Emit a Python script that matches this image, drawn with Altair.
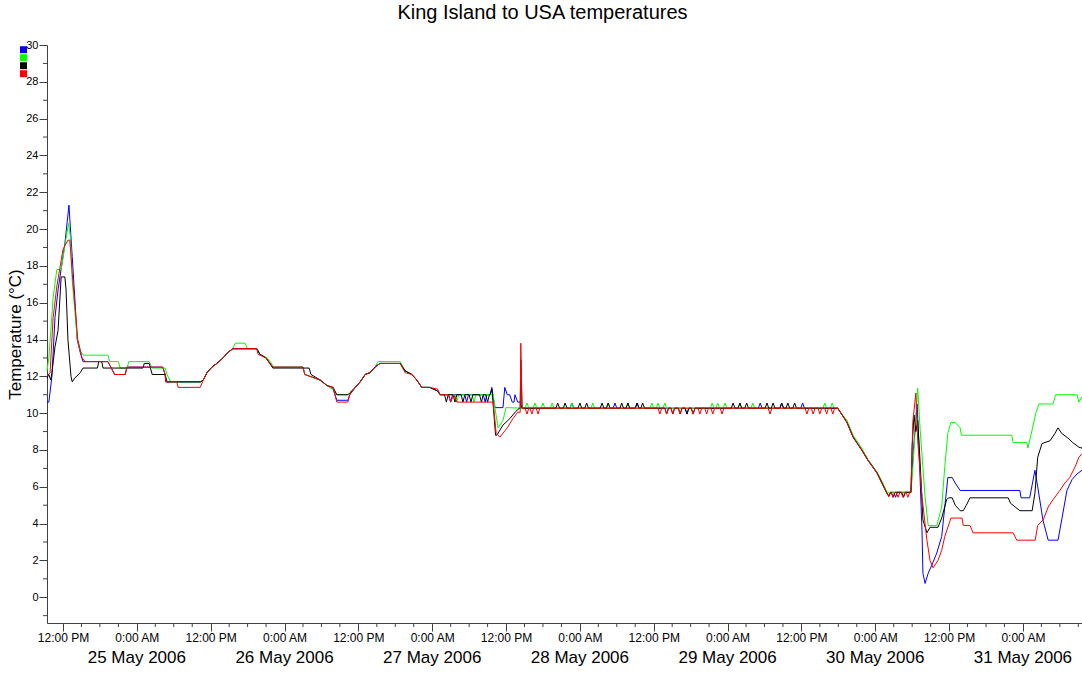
import altair as alt
import pandas as pd

# Readings as (hours after 24 May 2006 12:00, temperature in °C)
blue_pts = [
    (-2.6, 10.6), (-2.3, 10.6), (-1.8, 12.0), (-1.3, 15.2), (-0.8, 16.7), (0.3, 19.2), (0.97, 21.3),
    (1.1, 20.6), (1.5, 18.5), (2.0, 15.8), (2.3, 14.0), (2.8, 13.3), (3.25, 12.8), (7.3, 12.8),
    (8.4, 12.1), (10.1, 12.1), (10.4, 12.5), (16.2, 12.5), (16.6, 12.1), (16.7, 11.7), (22.3, 11.7),
    (22.8, 11.8), (23.4, 12.2), (24.2, 12.5), (25.0, 12.7), (26.0, 13.0), (26.8, 13.3), (27.6, 13.5),
    (31.5, 13.5), (32.0, 13.2), (33.0, 13.0), (34.1, 12.5), (39.0, 12.5), (39.3, 12.1), (41.8, 11.8),
    (42.9, 11.5), (43.9, 11.3), (44.5, 10.7), (46.3, 10.7), (46.6, 11.0), (47.5, 11.4), (48.3, 11.7),
    (49.1, 12.1), (49.9, 12.2), (50.7, 12.5), (51.5, 12.7), (54.8, 12.7), (55.6, 12.3), (56.7, 12.1),
    (57.5, 11.8), (58.3, 11.4), (59.6, 11.4), (60.9, 11.2), (61.3, 11.0), (69.4, 11.0), (69.7, 11.4),
    (69.9, 10.9), (70.2, 10.3), (71.5, 10.3), (71.8, 11.4), (72.2, 11.0), (72.6, 11.0), (73.0, 10.6),
    (73.3, 10.6), (73.45, 11.0), (73.9, 10.6), (74.3, 10.6), (74.6, 10.27), (125.9, 10.27),
    (127.4, 9.5), (128.4, 8.7), (129.8, 8.0), (130.8, 7.45), (132.3, 6.75), (133.1, 6.2), (133.9, 5.65),
    (134.2, 5.5), (134.5, 5.7), (137.8, 5.7), (138.2, 8.0), (138.8, 10.5), (139.1, 8.2), (139.3, 6.35),
    (139.6, 3.6), (139.75, 1.3), (140.1, 0.75), (140.6, 1.3), (141.2, 1.75), (142.0, 2.4), (142.8, 3.3),
    (143.3, 4.9), (143.8, 6.5), (144.5, 6.5), (145.0, 6.2), (145.8, 5.8), (155.5, 5.8), (155.7, 5.4),
    (157.1, 5.4), (157.95, 6.9), (158.4, 6.0), (159.25, 4.2), (160.1, 3.1), (161.7, 3.1), (162.3, 4.2),
    (163.15, 5.8), (164.0, 6.4), (164.8, 6.7), (165.6, 6.9),
]
green_pts = [
    (-2.6, 12.3), (-2.3, 13.0), (-1.6, 16.3), (-1.0, 17.8), (-0.3, 17.8), (0.5, 19.5), (0.9, 20.3),
    (1.2, 19.6), (1.5, 17.2), (2.3, 14.1), (2.8, 13.4), (3.3, 13.15), (7.3, 13.15), (7.6, 12.8),
    (9.0, 12.8), (9.3, 12.45), (10.4, 12.45), (10.7, 12.8), (14.0, 12.8), (14.5, 12.45), (16.6, 12.45),
    (16.9, 12.1), (17.5, 11.7), (22.3, 11.7), (22.8, 11.8), (23.4, 12.2), (24.2, 12.5), (25.0, 12.7),
    (26.0, 13.0), (26.8, 13.3), (27.6, 13.5), (28.0, 13.8), (29.6, 13.8), (30.0, 13.5), (31.5, 13.5),
    (32.0, 13.2), (33.2, 13.0), (34.3, 12.5), (39.0, 12.5), (39.3, 12.1), (41.8, 11.8), (42.9, 11.5),
    (43.9, 11.3), (44.5, 11.0), (46.3, 11.0), (46.6, 11.1), (47.5, 11.4), (48.3, 11.7), (49.1, 12.1),
    (49.9, 12.2), (50.7, 12.5), (51.2, 12.8), (54.8, 12.8), (55.6, 12.3), (56.7, 12.1), (57.5, 11.8),
    (58.3, 11.4), (59.6, 11.4), (60.9, 11.2), (61.3, 11.0), (69.9, 11.0), (70.2, 10.3), (70.7, 9.2),
    (71.5, 9.6), (72.0, 10.3), (74.6, 10.27), (125.9, 10.27), (127.4, 9.6), (128.4, 8.8), (129.8, 8.1),
    (130.8, 7.5), (132.3, 6.8), (133.1, 6.3), (133.9, 5.7), (137.8, 5.7), (138.2, 7.5), (138.9, 11.35),
    (139.3, 9.1), (140.1, 5.45), (140.6, 3.9), (142.0, 3.9), (142.8, 4.9), (143.3, 7.1), (143.8, 8.9),
    (144.3, 9.5), (145.0, 9.5), (145.8, 9.2), (146.0, 8.8), (154.2, 8.8), (154.4, 8.4), (156.65, 8.4),
    (156.8, 8.1), (157.5, 9.1), (158.1, 10.0), (158.6, 10.5), (160.9, 10.5), (161.3, 11.0),
    (164.8, 11.0), (165.1, 10.6), (165.6, 10.9),
]
black_pts = [
    (-2.6, 11.9), (-2.3, 12.1), (-2.0, 11.8), (-1.8, 12.2), (-1.3, 13.6), (-0.8, 14.5), (-0.3, 17.4),
    (0.3, 17.4), (0.5, 16.7), (0.8, 14.0), (1.3, 12.0), (1.5, 11.7), (1.9, 11.9), (2.8, 12.2),
    (3.25, 12.45), (5.6, 12.45), (5.8, 12.8), (6.3, 12.8), (6.5, 12.45), (13.0, 12.45), (13.2, 12.7),
    (14.0, 12.7), (14.5, 12.1), (16.6, 12.1), (16.9, 11.7), (22.4, 11.7), (22.8, 11.8), (23.4, 12.2),
    (24.2, 12.5), (25.0, 12.7), (26.0, 13.0), (26.8, 13.3), (27.6, 13.5), (31.5, 13.5), (32.0, 13.2),
    (33.0, 13.0), (34.1, 12.45), (40.0, 12.45), (40.3, 12.1), (41.8, 11.8), (42.9, 11.5), (43.9, 11.4),
    (44.5, 11.0), (46.3, 11.0), (46.6, 11.1), (47.5, 11.4), (48.3, 11.7), (49.1, 12.1), (49.9, 12.2),
    (50.7, 12.5), (51.5, 12.7), (54.8, 12.7), (55.6, 12.3), (56.7, 12.1), (57.5, 11.8), (58.3, 11.4),
    (59.6, 11.4), (60.9, 11.2), (61.3, 11.0), (69.4, 11.0), (69.7, 11.3), (69.9, 10.5), (70.3, 8.8),
    (70.5, 8.8), (71.5, 9.35), (72.6, 9.7), (73.6, 10.1), (74.3, 10.3), (74.4, 12.9), (74.6, 10.27),
    (125.9, 10.27), (127.4, 9.5), (128.4, 8.7), (129.8, 8.0), (130.8, 7.45), (132.3, 6.75), (133.1, 6.2),
    (133.9, 5.65), (134.2, 5.5), (134.5, 5.7), (137.8, 5.7), (138.0, 8.2), (138.3, 9.9), (138.6, 9.0),
    (138.9, 9.6), (139.3, 7.3), (139.75, 4.2), (140.4, 3.5), (140.9, 3.8), (142.2, 3.8), (142.8, 4.3),
    (143.6, 5.3), (143.9, 5.4), (144.5, 5.4), (145.0, 5.0), (145.8, 4.7), (146.3, 4.7), (146.8, 5.0),
    (147.4, 5.4), (153.6, 5.4), (154.0, 5.1), (155.5, 4.7), (157.5, 4.7), (157.95, 5.65), (158.4, 7.6),
    (159.1, 8.35), (160.4, 8.5), (161.2, 8.9), (161.7, 9.2), (162.3, 8.9), (163.3, 8.65), (164.1, 8.4),
    (165.1, 8.15), (165.6, 8.1),
]
red_pts = [
    (-2.6, 12.0), (-2.1, 12.2), (-1.6, 15.2), (-1.0, 16.9), (-0.5, 17.9), (0.0, 18.9), (0.8, 19.4),
    (1.1, 19.4), (1.5, 17.6), (2.0, 15.6), (2.4, 14.0), (3.1, 13.0), (3.6, 12.8), (7.3, 12.8),
    (8.4, 12.1), (10.1, 12.1), (10.4, 12.5), (16.2, 12.5), (16.6, 12.1), (16.7, 11.7), (18.5, 11.7),
    (18.7, 11.4), (22.3, 11.4), (22.8, 11.8), (23.4, 12.2), (24.2, 12.5), (25.0, 12.7), (26.0, 13.0),
    (26.8, 13.3), (27.6, 13.5), (31.5, 13.5), (31.7, 13.2), (33.0, 13.0), (34.1, 12.5), (39.0, 12.5),
    (39.3, 12.1), (41.8, 11.8), (42.9, 11.5), (43.9, 11.4), (44.5, 10.6), (46.3, 10.6), (46.6, 11.0),
    (47.5, 11.4), (48.3, 11.7), (49.1, 12.1), (49.9, 12.2), (50.7, 12.5), (51.5, 12.7), (54.8, 12.7),
    (55.6, 12.2), (56.7, 12.1), (57.5, 11.8), (58.3, 11.4), (59.6, 11.4), (60.9, 11.3), (61.3, 11.0),
    (62.6, 11.0), (63.0, 10.6), (63.5, 11.0), (64.0, 10.6), (69.9, 10.6), (70.4, 8.9), (71.0, 8.7),
    (72.2, 9.2), (73.1, 9.7), (73.9, 10.05), (74.3, 10.05), (74.4, 13.8), (74.6, 10.27), (125.9, 10.27),
    (127.4, 9.5), (128.4, 8.7), (129.8, 8.0), (130.8, 7.45), (132.3, 6.75), (133.1, 6.2), (133.9, 5.65),
    (134.2, 5.45), (134.5, 5.7), (137.8, 5.7), (138.1, 9.5), (138.6, 11.1), (138.9, 8.5), (139.6, 5.45),
    (140.4, 3.1), (140.9, 2.0), (141.4, 1.6), (142.2, 2.0), (142.8, 2.55), (143.3, 3.3), (144.1, 4.1),
    (144.3, 4.3), (146.1, 4.3), (146.3, 3.9), (147.4, 3.9), (147.9, 3.5), (154.4, 3.5), (155.0, 3.1),
    (158.0, 3.1), (158.4, 3.9), (159.3, 4.2), (160.1, 4.9), (160.9, 5.3), (162.0, 5.8), (162.8, 6.2),
    (163.6, 6.5), (164.5, 7.1), (165.1, 7.6), (165.6, 7.8),
]

# Brief one-step excursions (hours): off the 11.0 °C level late on 26 May ...
blue_dip_11 = [63.0, 65.6, 68.6]
green_dip_11 = [64.0, 66.8]
black_dip_11 = [62.3, 63.7, 65.0, 66.3, 68.0, 69.0]
# ... off the 10.3 °C floor of 27-29 May ...
blue_up = [82.7, 89.7, 93.3, 113.3, 116.8, 120.2]
blue_down = [101.4]
green_up = [75.4, 76.7, 78.0, 79.5, 82.7, 86.1, 88.6, 91.8, 95.7, 96.7, 97.8,
            105.5, 106.4, 107.6, 110.0, 112.1, 123.8, 125.0]
black_up = [80.4, 81.6, 84.0, 85.1, 87.6, 88.6, 90.8, 91.8, 93.3, 94.2, 108.9,
            110.0, 111.1, 114.4, 115.4, 116.8, 117.8, 118.9]
black_down = [98.1, 99.1, 100.3, 101.4, 102.4]
red_down = [75.4, 76.2, 77.2, 97.0, 98.1, 99.1, 100.3, 102.4, 103.5, 104.6, 105.6,
            107.1, 114.9, 120.9, 121.9, 123.0, 124.1, 125.1]
# ... and off the 5.7 °C shelf on 30 May
blue_shelf = [135.3]
black_shelf = [134.9, 136.6]
red_shelf = [134.9, 135.7, 136.5, 137.3]

SERIES = ["T1", "T2", "T3", "T4"]
COLORS = ["#0000ff", "#00ff00", "#000000", "#ff0000"]
DAY_LABELS = ["25 May 2006", "26 May 2006", "27 May 2006", "28 May 2006",
              "29 May 2006", "30 May 2006", "31 May 2006"]

LEVEL_11, DIP_11 = 11.0, 10.6
FLOOR, FLOOR_UP, FLOOR_DOWN = 10.27, 10.55, 9.95
SHELF, SHELF_DOWN = 5.7, 5.43
H_MS = 3_600_000
T0_MS = int(pd.Timestamp("2006-05-24 12:00", tz="UTC").timestamp() * 1000)


def blips(hours, base, peak, half=0.3):
    pts = []
    for h in hours:
        pts += [(h - half, base), (h, peak), (h + half, base)]
    return pts


def in_hours(h):
    return T0_MS + h * H_MS


traces = {
    "T1": blue_pts + blips(blue_dip_11, LEVEL_11, DIP_11) + blips(blue_up, FLOOR, FLOOR_UP)
    + blips(blue_down, FLOOR, FLOOR_DOWN) + blips(blue_shelf, SHELF, SHELF_DOWN),
    "T2": green_pts + blips(green_dip_11, LEVEL_11, DIP_11) + blips(green_up, FLOOR, FLOOR_UP),
    "T3": black_pts + blips(black_dip_11, LEVEL_11, DIP_11) + blips(black_up, FLOOR, FLOOR_UP)
    + blips(black_down, FLOOR, FLOOR_DOWN) + blips(black_shelf, SHELF, SHELF_DOWN),
    "T4": red_pts + blips(red_down, FLOOR, FLOOR_DOWN) + blips(red_shelf, SHELF, SHELF_DOWN),
}

rows = []
for name, pts in traces.items():
    for h, v in sorted(pts):
        rows.append({"series": name, "ms": in_hours(h), "temp": v})
df = pd.DataFrame(rows)

W, H = 1035, 578
AX = "#404040"
FONT = "Liberation Sans"

x_scale = alt.Scale(type="utc", domain=[in_hours(-2.6), in_hours(165.6)])
y_scale = alt.Scale(domain=[-1.4, 30], nice=False, zero=False)
color_scale = alt.Scale(domain=SERIES, range=COLORS)

# unlabelled colour key: small filled squares stacked in the top-left corner
legend = alt.Legend(
    orient="none", legendX=-27, legendY=1, title=None, symbolType="square",
    symbolSize=4, symbolStrokeWidth=5, labelExpr="''", labelFontSize=1,
    clipHeight=7.7, rowPadding=0, padding=0, symbolOffset=0,
)

x_axis = alt.Axis(
    values=[in_hours(12 * k) for k in range(14)],
    labelExpr="utchours(datum.value) == 12 ? '12:00 PM' : '0:00 AM'",
    title=None, grid=False, tickSize=8, tickColor=AX, domainColor=AX,
    labelFont=FONT, labelFontSize=12, labelColor="#000000", labelPadding=1,
    labelOverlap=False, labelFlush=False,
)
y_axis = alt.Axis(
    values=list(range(0, 31, 2)), title="Temperature (°C)", grid=False,
    tickSize=8, tickColor=AX, domainColor=AX, labelFont=FONT, labelFontSize=11,
    labelColor="#000000", labelPadding=1, titleFont=FONT, titleFontSize=17,
    titleFontWeight="normal", titleColor="#000000", titlePadding=1,
)

X = alt.X("ms:T", scale=x_scale, axis=x_axis)
Y = alt.Y("temp:Q", scale=y_scale, axis=y_axis)

base = alt.Chart(df)
lines = [
    base.transform_filter(alt.datum.series == s).mark_line(strokeWidth=1).encode(
        x=X, y=Y, color=alt.Color("series:N", scale=color_scale, legend=legend),
    )
    for s in SERIES
]

# minor ticks: odd degrees on the y axis, every 3 hours on the time axis
y_minor = alt.Chart(pd.DataFrame({"temp": list(range(-1, 30, 2))})).mark_rule(
    color=AX).encode(y=Y, x=alt.value(-4), x2=alt.value(0))
x_minor = alt.Chart(pd.DataFrame({"ms": [in_hours(h) for h in range(3, 166, 3) if h % 12]})).mark_rule(
    color=AX).encode(x=X, y=alt.value(H), y2=alt.value(H + 4))

days = alt.Chart(pd.DataFrame({"ms": [in_hours(12 + 24 * k) for k in range(7)],
                               "day": DAY_LABELS})).mark_text(
    font=FONT, fontSize=17, baseline="middle", align="center", color="#000000"
).encode(x=X, y=alt.value(H + 35), text="day:N")

chart = alt.layer(*lines, y_minor, x_minor, days).properties(
    width=W, height=H,
    autosize=alt.AutoSizeParams(type="none"),
    padding={"left": 47, "top": 45, "right": 0, "bottom": 50},
    title=alt.TitleParams("King Island to USA temperatures", font=FONT, fontSize=20,
                          fontWeight="normal", color="#000000", anchor="middle",
                          dx=-22, offset=16),
).configure(background="white").configure_view(strokeWidth=0)

chart.save("out.html", embed_options={"renderer": "svg", "actions": False})
